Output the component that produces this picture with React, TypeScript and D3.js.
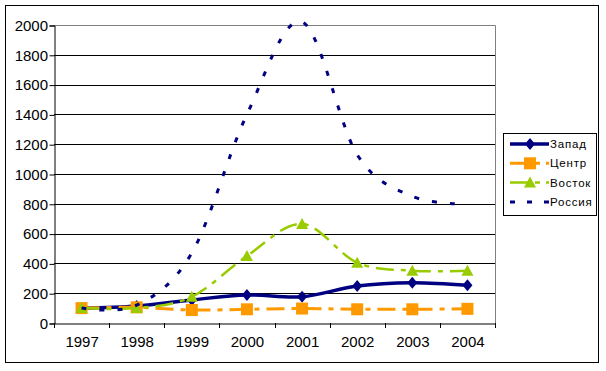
import React, { useEffect, useRef } from "react"
import * as d3 from "d3"

const years = ["1997", "1998", "1999", "2000", "2001", "2002", "2003", "2004"]
const zapad = [100, 114, 155, 188, 176, 248, 270, 253]
const centr = [100, 105, 87, 92, 97, 92, 92, 95]
const vostok = [100, 100, 176, 450, 665, 405, 351, 350]
const rossiya = [100, 120, 470, 1400, 2020, 1130, 850, 799]
const yTicks = [0, 200, 400, 600, 800, 1000, 1200, 1400, 1600, 1800, 2000]

const series = [
  { name: "Запад", values: zapad, color: "#000080", width: 3.5, dash: "", marker: "diamond" },
  { name: "Центр", values: centr, color: "#FF9900", width: 3, dash: "18 7 5 7", marker: "square" },
  { name: "Восток", values: vostok, color: "#99CC00", width: 2.5, dash: "18 7 5 7", marker: "triangle" },
  { name: "Россия", values: rossiya, color: "#000080", width: 3, dash: "5 13", marker: "none" },
]

export default function App() {
  const ref = useRef<SVGSVGElement>(null)

  useEffect(() => {
    const svg = d3.select(ref.current)
    svg.selectAll("*").remove()

    const left = 54, top = 25, right = 495, bottom = 323
    const font = "'Liberation Sans', Arial, sans-serif"

    svg.append("rect")
      .attr("x", 5.5).attr("y", 5.5).attr("width", 593).attr("height", 357)
      .attr("fill", "white").attr("stroke", "black")

    const x = d3.scaleBand().domain(years).range([left, right])
    const y = d3.scaleLinear().domain([0, 2000]).range([bottom, top])
    const cx = (d: string) => (x(d) as number) + x.bandwidth() / 2

    // grid
    svg.append("g").selectAll("line").data(yTicks.filter(t => t > 0 && t < 2000)).enter()
      .append("line")
      .attr("x1", left).attr("x2", right)
      .attr("y1", d => Math.round(y(d)) + 0.5).attr("y2", d => Math.round(y(d)) + 0.5)
      .attr("stroke", "black")

    // plot border top/right gray
    svg.append("path")
      .attr("d", `M${left},${top + 0.5}H${right + 0.5}V${bottom}`)
      .attr("fill", "none").attr("stroke", "#808080")

    const yAxis = svg.append("g")
      .attr("transform", `translate(${left + 0.5},0.5)`)
      .call(d3.axisLeft(y).tickValues(yTicks).tickSize(5).tickPadding(1.5).tickFormat(d3.format("d")))
    yAxis.selectAll("text").attr("font-family", font).attr("font-size", 15).attr("fill", "black")
    yAxis.selectAll("line,path").attr("stroke", "black")

    const xAxis = svg.append("g")
      .attr("transform", `translate(0.5,${bottom + 0.5})`)
      .call(d3.axisBottom(x).tickSize(0).tickPadding(13))
    xAxis.select(".domain").attr("stroke", "black")
    xAxis.selectAll("text").attr("font-family", font).attr("font-size", 15).attr("fill", "black")
    svg.append("g").selectAll("line").data(years.concat(["end"])).enter().append("line")
      .attr("x1", (d, i) => Math.round(left + i * x.bandwidth()) + 0.5)
      .attr("x2", (d, i) => Math.round(left + i * x.bandwidth()) + 0.5)
      .attr("y1", bottom).attr("y2", bottom + 5)
      .attr("stroke", "black")

    const line = d3.line<number>()
      .x((d, i) => cx(years[i]))
      .y(d => y(d))
      .curve(d3.curveCardinal.tension(0))

    const drawMarker = (g: any, kind: string, px: number, py: number, color: string) => {
      if (kind === "diamond") {
        g.append("path").attr("d", `M${px},${py - 6}L${px + 5},${py}L${px},${py + 6}L${px - 5},${py}Z`).attr("fill", color)
      } else if (kind === "square") {
        g.append("rect").attr("x", px - 6).attr("y", py - 6).attr("width", 12).attr("height", 12).attr("fill", color)
      } else if (kind === "triangle") {
        g.append("path").attr("d", `M${px},${py - 6}L${px + 6},${py + 5}L${px - 6},${py + 5}Z`).attr("fill", color)
      }
    }

    series.forEach(s => {
      const g = svg.append("g")
      g.append("path")
        .attr("d", line(s.values))
        .attr("fill", "none").attr("stroke", s.color)
        .attr("stroke-width", s.width).attr("stroke-dasharray", s.dash)
      s.values.forEach((v, i) => drawMarker(g, s.marker, cx(years[i]), y(v), s.color))
    })

    // legend
    const lg = svg.append("g")
    lg.append("rect").attr("x", 503.5).attr("y", 133.5).attr("width", 93).attr("height", 82)
      .attr("fill", "white").attr("stroke", "black")
    series.forEach((s, i) => {
      const ly = 144 + i * 19.3
      lg.append("line").attr("x1", 510).attr("x2", 549).attr("y1", ly).attr("y2", ly)
        .attr("stroke", s.color).attr("stroke-width", s.width)
        .attr("stroke-dasharray", s.dash === "" ? "" : s.name === "Россия" ? "5 12" : "19 6 5 6")
      drawMarker(lg, s.marker, 530, ly, s.color)
      lg.append("text").attr("x", 550).attr("y", ly).attr("dy", "0.35em")
        .attr("font-family", font).attr("font-size", 11.5).attr("letter-spacing", 0.8)
        .text(s.name)
    })
  }, [])

  return (
    <svg ref={ref} width={606} height={371}
      style={{ position: "absolute", left: 0, top: 0, background: "white" }} />
  )
}
